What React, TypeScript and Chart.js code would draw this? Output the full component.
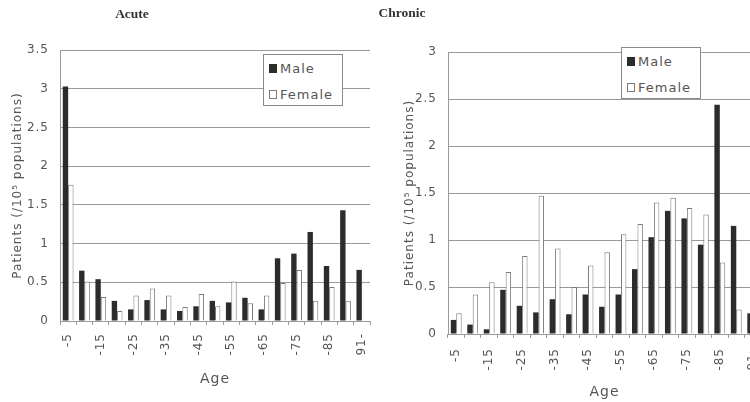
import React, { useEffect, useRef } from "react";
import { Chart, registerables } from "chart.js";
Chart.register(...registerables);

const ageLabels = ["-5", "-10", "-15", "-20", "-25", "-30", "-35", "-40", "-45", "-50", "-55", "-60", "-65", "-70", "-75", "-80", "-85", "-90", "91-"];
const acuteMale = [3.03, 0.65, 0.54, 0.26, 0.15, 0.27, 0.15, 0.13, 0.19, 0.26, 0.24, 0.3, 0.15, 0.81, 0.87, 1.15, 0.71, 1.43, 0.66];
const acuteFemale = [1.76, 0.51, 0.31, 0.13, 0.33, 0.42, 0.33, 0.18, 0.35, 0.19, 0.51, 0.23, 0.33, 0.49, 0.66, 0.26, 0.44, 0.26, 0];
const chronicMale = [0.15, 0.1, 0.05, 0.47, 0.3, 0.23, 0.37, 0.21, 0.42, 0.29, 0.42, 0.69, 1.03, 1.31, 1.23, 0.95, 2.44, 1.15, 0.22];
const chronicFemale = [0.22, 0.42, 0.55, 0.66, 0.83, 1.47, 0.91, 0.5, 0.73, 0.87, 1.06, 1.17, 1.4, 1.45, 1.34, 1.27, 0.76, 0.26, 0.1];
const seriesNames = ["Male", "Female"];
const yTitle = "Patients (/10\u2075 populations)";
const xTitle = "Age";

const MALE_COLOR = "#2a2e2a";
const FEMALE_BORDER = "#7a7a7a";
const GRID = "#9a9a9a";
const TEXT = "#555";
const FONT = "'DejaVu Sans', sans-serif";

type PanelCfg = {
  left: number;
  width: number;
  male: number[];
  female: number[];
  yMax: number;
  padTop: number;
  padRight: number;
  yAxisWidth: number;
  xAxisHeight: number;
  yTitlePad: number;
  xTitlePad: number;
  xTickPad: number;
};

const spacingPlugin = {
  id: "letterSpacing",
  beforeUpdate(chart: any) {
    (chart.ctx as any).letterSpacing = "1px";
  },
  beforeDraw(chart: any) {
    (chart.ctx as any).letterSpacing = "1px";
  },
};

function Panel({ cfg }: { cfg: PanelCfg }) {
  const ref = useRef<HTMLCanvasElement | null>(null);
  useEffect(() => {
    if (!ref.current) return;
    const chart = new Chart(ref.current, {
      type: "bar",
      plugins: [spacingPlugin],
      data: {
        labels: ageLabels,
        datasets: [
          {
            label: seriesNames[0],
            data: cfg.male,
            backgroundColor: MALE_COLOR,
            borderWidth: 0,
            categoryPercentage: 0.66,
            barPercentage: 1,
          },
          {
            label: seriesNames[1],
            data: cfg.female,
            backgroundColor: "#ffffff",
            borderColor: FEMALE_BORDER,
            borderWidth: 1,
            categoryPercentage: 0.66,
            barPercentage: 1,
          },
        ],
      },
      options: {
        responsive: false,
        animation: false,
        layout: { padding: { left: 0, right: cfg.padRight, top: cfg.padTop, bottom: 0 } },
        plugins: {
          legend: { display: false },
          title: { display: false },
          tooltip: { enabled: false },
        },
        scales: {
          x: {
            offset: true,
            grid: {
              display: true,
              drawOnChartArea: false,
              drawTicks: true,
              tickLength: 4,
              color: GRID,
              offset: true,
            },
            border: { display: false },
            ticks: {
              autoSkip: false,
              maxRotation: 90,
              minRotation: 90,
              padding: cfg.xTickPad,
              color: TEXT,
              font: { family: FONT, size: 12 },
              callback: (_v: any, i: number) => (i % 2 === 0 ? ageLabels[i] : ""),
            },
            title: {
              display: true,
              text: xTitle,
              color: TEXT,
              font: { family: FONT, size: 14 },
              padding: { top: 0, bottom: cfg.xTitlePad },
            },
            afterFit: (s: any) => {
              s.height = cfg.xAxisHeight;
              s.paddingLeft = 0;
              s.paddingRight = 0;
            },
          },
          y: {
            min: 0,
            max: cfg.yMax,
            ticks: {
              stepSize: 0.5,
              padding: 11,
              color: TEXT,
              font: { family: FONT, size: 12 },
              callback: (v: any) => String(Number(v)),
            },
            grid: { color: GRID, drawTicks: false, lineWidth: 1 },
            border: { display: true, color: GRID },
            title: {
              display: true,
              text: yTitle,
              color: TEXT,
              font: { family: FONT, size: 12 },
              padding: { top: cfg.yTitlePad, bottom: 0 },
            },
            afterFit: (s: any) => {
              s.width = cfg.yAxisWidth;
            },
          },
        },
      },
    });
    return () => chart.destroy();
  }, [cfg]);
  return (
    <canvas
      ref={ref}
      width={cfg.width}
      height={402}
      style={{ position: "absolute", left: cfg.left, top: 0, width: cfg.width, height: 402 }}
    />
  );
}

const acuteCfg: PanelCfg = {
  left: 0,
  width: 375,
  male: acuteMale,
  female: acuteFemale,
  yMax: 3.5,
  padTop: 50,
  padRight: 5,
  yAxisWidth: 60,
  xAxisHeight: 81,
  yTitlePad: 11,
  xTitlePad: 14,
  xTickPad: 8,
};

const chronicCfg: PanelCfg = {
  left: 390,
  width: 375,
  male: chronicMale,
  female: chronicFemale,
  yMax: 3,
  padTop: 52,
  padRight: 4,
  yAxisWidth: 58,
  xAxisHeight: 68,
  yTitlePad: 13,
  xTitlePad: 1,
  xTickPad: 10,
};

function Legend({ left, top }: { left: number; top: number }) {
  const row = (name: string, filled: boolean, y: number) => (
    <div
      style={{
        position: "absolute",
        left: 5,
        top: y,
        display: "flex",
        alignItems: "center",
        fontFamily: FONT,
        fontSize: 13,
        letterSpacing: 1,
        color: TEXT,
        whiteSpace: "nowrap",
      }}
    >
      <span
        style={{
          display: "inline-block",
          width: 8,
          height: 9,
          marginRight: 3,
          boxSizing: "border-box",
          background: filled ? MALE_COLOR : "#fff",
          border: filled ? "none" : `1px solid ${FEMALE_BORDER}`,
        }}
      />
      {name}
    </div>
  );
  return (
    <div
      style={{
        position: "absolute",
        left,
        top,
        width: 80,
        height: 52,
        boxSizing: "border-box",
        border: "1px solid #8a8a8a",
        background: "#fff",
      }}
    >
      {row(seriesNames[0], true, 6)}
      {row(seriesNames[1], false, 32)}
    </div>
  );
}

const titleStyle = (cx: number, cy: number): React.CSSProperties => ({
  position: "absolute",
  left: cx - 50,
  top: cy - 8,
  width: 100,
  textAlign: "center",
  fontFamily: "'Liberation Serif', serif",
  fontWeight: "bold",
  fontSize: 13.5,
  lineHeight: "16px",
  color: "#333",
});

export default function App() {
  return (
    <div
      style={{
        position: "absolute",
        left: 0,
        top: 0,
        width: 750,
        height: 402,
        overflow: "hidden",
        background: "#fff",
      }}
    >
      <Panel cfg={acuteCfg} />
      <Panel cfg={chronicCfg} />
      <div style={titleStyle(132, 14)}>Acute</div>
      <div style={titleStyle(402, 13)}>Chronic</div>
      <Legend left={263} top={54} />
      <Legend left={621} top={47} />
    </div>
  );
}
